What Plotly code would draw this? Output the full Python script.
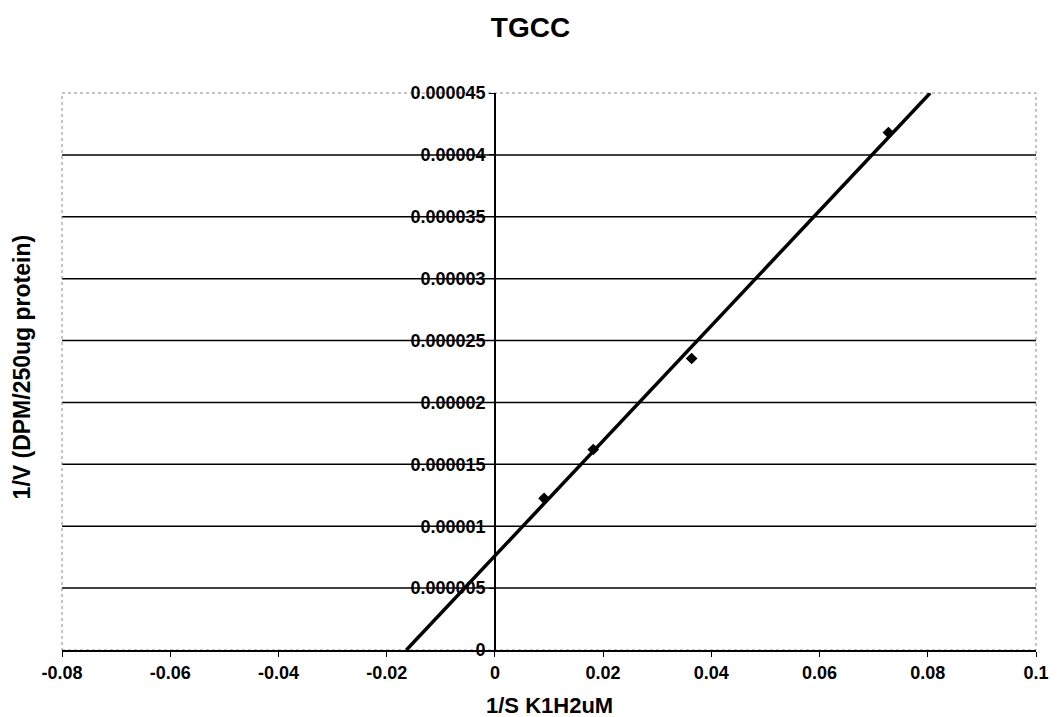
import numpy as np
import plotly.graph_objects as go

# Data
inv_s = [0.00909, 0.01818, 0.03636, 0.07273]
inv_v = [1.225e-5, 1.62e-5, 2.355e-5, 4.18e-5]

x_ticks = [-0.08, -0.06, -0.04, -0.02, 0, 0.02, 0.04, 0.06, 0.08, 0.1]
x_ticktext = ["-0.08", "-0.06", "-0.04", "-0.02", "0", "0.02", "0.04", "0.06", "0.08", "0.1"]
y_ticks = [0, 5e-6, 1e-5, 1.5e-5, 2e-5, 2.5e-5, 3e-5, 3.5e-5, 4e-5, 4.5e-5]
y_ticktext = ["0", "0.000005", "0.00001", "0.000015", "0.00002", "0.000025",
              "0.00003", "0.000035", "0.00004", "0.000045"]
grid_vals = y_ticks[1:-1]

x_range = [-0.08, 0.1]
y_range = [0, 4.5e-5]

# Linear trendline (least squares), drawn from y=0 to top of the axis
slope, intercept = np.polyfit(inv_s, inv_v, 1)
x0 = (y_range[0] - intercept) / slope
x1 = (y_range[1] - intercept) / slope
line_x = [x0, x1]
line_y = [slope * x0 + intercept, slope * x1 + intercept]

FONT = "Liberation Sans, Arial, sans-serif"

fig = go.Figure()
fig.add_trace(go.Scatter(x=line_x, y=line_y, mode="lines",
                         line=dict(color="black", width=3.5),
                         showlegend=False, hoverinfo="skip"))
fig.add_trace(go.Scatter(x=inv_s, y=inv_v, mode="markers",
                         marker=dict(symbol="diamond", size=9, color="black"),
                         showlegend=False))

shapes = []
for g in grid_vals:
    shapes.append(dict(type="line", xref="paper", yref="y", x0=0, x1=1, y0=g, y1=g,
                       line=dict(color="black", width=1.5), layer="below"))
shapes.append(dict(type="rect", xref="paper", yref="paper", x0=0, x1=1, y0=0, y1=1,
                   line=dict(color="#888888", width=1, dash="dot"), layer="below"))

zero_pos = (0 - x_range[0]) / (x_range[1] - x_range[0])

fig.update_layout(
    width=1061, height=717,
    margin=dict(l=62, r=15, t=93, b=67),
    paper_bgcolor="white", plot_bgcolor="white",
    font=dict(family=FONT, color="black", size=18),
    title=dict(text="<b>TGCC</b>", x=0.5, xanchor="center", y=0.962, yanchor="middle",
               font=dict(size=28, family=FONT)),
    xaxis=dict(range=x_range, tickvals=x_ticks,
               ticktext=["<b>%s</b>" % t for t in x_ticktext],
               showgrid=False, zeroline=False, showline=True, linecolor="black", linewidth=2,
               ticks="outside", ticklen=5, tickcolor="black",
               tickfont=dict(size=18, family=FONT), fixedrange=True),
    yaxis=dict(range=y_range, tickvals=y_ticks,
               ticktext=["<b>%s</b>" % t for t in y_ticktext],
               anchor="free", position=zero_pos,
               showgrid=False, zeroline=False, showline=True, linecolor="black", linewidth=1.5,
               ticks="outside", ticklen=5, tickcolor="black",
               tickfont=dict(size=18, family=FONT)),
    shapes=shapes,
    annotations=[
        dict(text="<b>1/S K1H2uM</b>", xref="paper", yref="paper", x=0.5, y=-0.099,
             xanchor="center", yanchor="middle", showarrow=False,
             font=dict(size=22, family=FONT)),
        dict(text="<b>1/V (DPM/250ug protein)</b>", xref="paper", yref="paper",
             x=-0.0407, y=0.508, textangle=-90, xanchor="center", yanchor="middle",
             showarrow=False, font=dict(size=23, family=FONT)),
    ],
)

fig.write_html("out.html")
